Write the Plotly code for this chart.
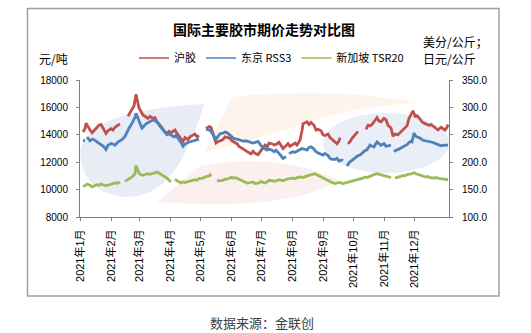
import plotly.graph_objects as go

# ---------------- data ----------------
month_ticks = ["2021-01-01", "2021-02-01", "2021-03-01", "2021-04-01", "2021-05-01", "2021-06-01",
               "2021-07-01", "2021-08-01", "2021-09-01", "2021-10-01", "2021-11-01", "2021-12-01"]
month_labels = ["2021年1月", "2021年2月", "2021年3月", "2021年4月", "2021年5月", "2021年6月",
                "2021年7月", "2021年8月", "2021年9月", "2021年10月", "2021年11月", "2021年12月"]

# 沪胶 (元/吨, left axis)
shfe_dates = [
    "2021-01-04", "2021-01-06", "2021-01-07", "2021-01-08", "2021-01-11", "2021-01-13", "2021-01-15", "2021-01-18", "2021-01-20", "2021-01-22", "2021-01-25", "2021-01-27", "2021-01-29",
    "2021-02-01", "2021-02-03", "2021-02-05", "2021-02-08", "2021-02-10", "2021-02-14", "2021-02-18", "2021-02-22", "2021-02-24", "2021-02-25", "2021-02-26",
    "2021-03-01", "2021-03-03", "2021-03-05", "2021-03-08", "2021-03-10", "2021-03-12", "2021-03-15", "2021-03-17", "2021-03-19", "2021-03-22", "2021-03-24", "2021-03-26", "2021-03-29", "2021-03-31",
    "2021-04-02", "2021-04-06", "2021-04-08", "2021-04-12", "2021-04-14", "2021-04-16", "2021-04-19", "2021-04-21", "2021-04-23", "2021-04-26", "2021-04-28", "2021-04-30",
    "2021-05-03", "2021-05-07", "2021-05-10", "2021-05-12", "2021-05-14", "2021-05-17", "2021-05-19", "2021-05-21", "2021-05-24", "2021-05-26", "2021-05-28", "2021-05-31",
    "2021-06-02", "2021-06-04", "2021-06-07", "2021-06-09", "2021-06-11", "2021-06-15", "2021-06-17", "2021-06-21", "2021-06-23", "2021-06-25", "2021-06-28", "2021-06-30",
    "2021-07-02", "2021-07-05", "2021-07-07", "2021-07-09", "2021-07-12", "2021-07-14", "2021-07-16", "2021-07-19", "2021-07-21", "2021-07-23", "2021-07-26", "2021-07-28", "2021-07-30",
    "2021-08-02", "2021-08-04", "2021-08-06", "2021-08-09", "2021-08-11", "2021-08-12", "2021-08-16", "2021-08-18", "2021-08-20", "2021-08-23", "2021-08-25", "2021-08-27", "2021-08-30",
    "2021-09-01", "2021-09-03", "2021-09-06", "2021-09-08", "2021-09-10", "2021-09-13", "2021-09-15", "2021-09-17", "2021-09-18", "2021-09-22", "2021-09-26", "2021-09-28", "2021-09-30",
    "2021-10-02", "2021-10-04", "2021-10-06", "2021-10-10", "2021-10-14", "2021-10-16", "2021-10-18", "2021-10-20", "2021-10-22", "2021-10-25", "2021-10-27", "2021-10-29",
    "2021-11-01", "2021-11-03", "2021-11-05", "2021-11-08", "2021-11-10", "2021-11-12", "2021-11-15", "2021-11-17", "2021-11-19", "2021-11-22", "2021-11-24", "2021-11-26", "2021-11-29", "2021-11-30",
    "2021-12-02", "2021-12-04", "2021-12-07", "2021-12-09", "2021-12-11", "2021-12-14", "2021-12-16", "2021-12-18", "2021-12-21", "2021-12-23", "2021-12-25", "2021-12-28", "2021-12-30",
    "2022-01-01", "2022-01-03", "2022-01-04",
]
shfe_vals = [
    14200, 14450, 14850, 14700, 14350, 14150, 14300, 14600, 14700, 14750, 14350, 14100, 14300,
    14450, 14350, 14550, 14700, 14800, None, 15350, 15800, 16100, 16500, 16950,
    15950, 15700, 15450, 15300, 15200, 15350, 15200, 15250, 14950, 14700, 14450, 14300, 14100, 14250,
    14150, 14350, 14100, 13750, 13500, 13800, 13650, 13850, 13950, 14050, 13850, 13950,
    None, 14450, 14600, 14550, 14100, 13400, 13500, 13550, 13650, 13850, 13800, 13750,
    13550, 13450, 13350, 13150, 13050, 12900, 12750, 12600, 12800, 12650, 12550, 12800,
    12950, 13250, 13100, 13400, 13350, 13250, 13300, 13450, 13200, 13000, 13200, 13350, 13150,
    13300, 13400, 13250, 13600, 14300, 14800, 14950, 14750, 14900, 14700, 14350, 14400, 14300,
    14000, 13950, 14050, 13800, 13650, 13450, 13350, 13550, 13800, None, 13350, 13500, 13750,
    13900, 14100, 14250, None, 14400, 14700, 14650, 14750, 14950, 15250, 15000, 14950,
    15200, 15100, 14700, 14500, 13900, 14050, 14000, 14150, 14300, 14500, 14650, 15200, 15550, 15750,
    15350, 15400, 15150, 14950, 14850, 14750, 14700, 14750, 14600, 14450, 14350, 14550, 14450,
    14350, 14550, 14750,
]

# 东京 RSS3 (日元/公斤, right axis)
tocom_dates = [
    "2021-01-04", "2021-01-06", "2021-01-07", "2021-01-08", "2021-01-11", "2021-01-13", "2021-01-15", "2021-01-18", "2021-01-20", "2021-01-22", "2021-01-25", "2021-01-27", "2021-01-29",
    "2021-02-01", "2021-02-03", "2021-02-05", "2021-02-08", "2021-02-10", "2021-02-12", "2021-02-15", "2021-02-17", "2021-02-19", "2021-02-22", "2021-02-24", "2021-02-25", "2021-02-26",
    "2021-03-01", "2021-03-03", "2021-03-04", "2021-03-08", "2021-03-10", "2021-03-12", "2021-03-15", "2021-03-17", "2021-03-19", "2021-03-22", "2021-03-24", "2021-03-26", "2021-03-29", "2021-03-31",
    "2021-04-02", "2021-04-05", "2021-04-07", "2021-04-09", "2021-04-12", "2021-04-14", "2021-04-16", "2021-04-19", "2021-04-21", "2021-04-23", "2021-04-26", "2021-04-28", "2021-04-30",
    "2021-05-03", "2021-05-07", "2021-05-10", "2021-05-12", "2021-05-14", "2021-05-17", "2021-05-19", "2021-05-21", "2021-05-24", "2021-05-26", "2021-05-28", "2021-05-31",
    "2021-06-02", "2021-06-04", "2021-06-07", "2021-06-09", "2021-06-11", "2021-06-14", "2021-06-16", "2021-06-18", "2021-06-21", "2021-06-23", "2021-06-25", "2021-06-28", "2021-06-30",
    "2021-07-02", "2021-07-05", "2021-07-07", "2021-07-09", "2021-07-12", "2021-07-14", "2021-07-16", "2021-07-19", "2021-07-21", "2021-07-23", "2021-07-26", "2021-07-27", "2021-07-29",
    "2021-08-02", "2021-08-04", "2021-08-06", "2021-08-09", "2021-08-11", "2021-08-13", "2021-08-16", "2021-08-18", "2021-08-20", "2021-08-23", "2021-08-25", "2021-08-27", "2021-08-30",
    "2021-09-01", "2021-09-03", "2021-09-06", "2021-09-08", "2021-09-10", "2021-09-13", "2021-09-15", "2021-09-17", "2021-09-20", "2021-09-21", "2021-09-23", "2021-09-25", "2021-09-27", "2021-09-29",
    "2021-10-01", "2021-10-04", "2021-10-06", "2021-10-08", "2021-10-11", "2021-10-13", "2021-10-15", "2021-10-18", "2021-10-20", "2021-10-22", "2021-10-25", "2021-10-27", "2021-10-29",
    "2021-11-01", "2021-11-03", "2021-11-05", "2021-11-08", "2021-11-09", "2021-11-11", "2021-11-13", "2021-11-15", "2021-11-17", "2021-11-19", "2021-11-22", "2021-11-24", "2021-11-26", "2021-11-28", "2021-11-29",
    "2021-12-01", "2021-12-03", "2021-12-07", "2021-12-10", "2021-12-13", "2021-12-16", "2021-12-20", "2021-12-24", "2021-12-28",
    "2022-01-01", "2022-01-04",
]
tocom_vals = [
    240, 239, None, 246, 239, 242, 241, 237, 235, 232, 228, 223, 231,
    234, 233, 231, 237, 239, 241, 247, 255, 262, 271, 278, 282, 289,
    274, 264, 262, 270, 272, 274, 277, 276, 273, 266, 261, 257, 250, 252,
    250, 246, 249, 244, 236, 229, 233, 236, 237, 238, 239, 240, 242,
    None, 260, 259, 256, 250, 242, 247, 252, 253, 255, 254, 250,
    246, 243, 242, 241, 240, 238, 239, 238, 237, 235, 236, 238, 233,
    228, 224, 222, 224, 222, 219, 222, 216, 212, 207, 210, None, 216,
    219, 218, 220, 222, 225, 224, 222, 227, 228, 224, 219, 217, 215,
    213, 216, 212, 207, 205, 205, 207, 202, 204, 203, None, 193, 199, 202,
    205, 210, 212, 213, 219, 221, 223, 231, 229, 228, 237, 233, 231,
    234, 229, 230, 231, None, 219, 222, 223, 225, 227, 229, 232, 236, 238, 237,
    253, 247, 244, 240, 239, 237, 236, 233, 230,
    231, 231,
]

# 新加坡 TSR20 (美分/公斤, right axis)
sgx_dates = [
    "2021-01-04", "2021-01-06", "2021-01-08", "2021-01-11", "2021-01-13", "2021-01-15", "2021-01-18", "2021-01-20", "2021-01-22", "2021-01-25", "2021-01-27", "2021-01-29",
    "2021-02-01", "2021-02-03", "2021-02-05", "2021-02-08", "2021-02-10", "2021-02-12", "2021-02-15", "2021-02-17", "2021-02-19", "2021-02-22", "2021-02-24", "2021-02-25", "2021-02-26",
    "2021-03-01", "2021-03-03", "2021-03-05", "2021-03-08", "2021-03-10", "2021-03-12", "2021-03-15", "2021-03-17", "2021-03-19", "2021-03-22", "2021-03-24", "2021-03-26", "2021-03-29", "2021-03-31",
    "2021-04-02", "2021-04-03", "2021-04-06", "2021-04-08", "2021-04-12", "2021-04-14", "2021-04-16", "2021-04-20", "2021-04-22", "2021-04-26", "2021-04-28", "2021-04-30",
    "2021-05-04", "2021-05-06", "2021-05-10", "2021-05-11", "2021-05-12", "2021-05-14", "2021-05-18", "2021-05-20", "2021-05-24", "2021-05-26", "2021-05-28",
    "2021-06-01", "2021-06-03", "2021-06-07", "2021-06-09", "2021-06-11", "2021-06-15", "2021-06-17", "2021-06-21", "2021-06-23", "2021-06-25", "2021-06-29",
    "2021-07-01", "2021-07-05", "2021-07-07", "2021-07-09", "2021-07-13", "2021-07-15", "2021-07-19", "2021-07-21", "2021-07-23", "2021-07-27", "2021-07-29",
    "2021-08-02", "2021-08-04", "2021-08-06", "2021-08-10", "2021-08-12", "2021-08-16", "2021-08-18", "2021-08-20", "2021-08-24", "2021-08-26", "2021-08-30",
    "2021-09-01", "2021-09-03", "2021-09-07", "2021-09-09", "2021-09-13", "2021-09-15", "2021-09-17", "2021-09-21", "2021-09-23", "2021-09-27", "2021-09-29",
    "2021-10-01", "2021-10-05", "2021-10-07", "2021-10-11", "2021-10-13", "2021-10-15", "2021-10-19", "2021-10-21", "2021-10-25", "2021-10-27", "2021-10-29",
    "2021-11-02", "2021-11-04", "2021-11-08", "2021-11-09", "2021-11-12", "2021-11-15", "2021-11-17", "2021-11-19", "2021-11-23", "2021-11-25", "2021-11-29",
    "2021-12-01", "2021-12-03", "2021-12-07", "2021-12-09", "2021-12-13", "2021-12-15", "2021-12-17", "2021-12-21", "2021-12-23", "2021-12-27", "2021-12-29", "2021-12-31",
    "2022-01-04",
]
sgx_vals = [
    156, 157, 160, 158, 155, 157, 159, 158, 160, 158, 157, 158,
    160, 161, 162, 162, 164, None, 165, 167, 170, 173, 177, 179, 194,
    180, 177, 176, 178, 179, 178, 180, 181, 182, 179, 177, 174, 171, 167,
    164, None, 169, 166, 162, 164, 163, 165, 166, 168, 167, 170,
    171, 173, 175, 177, 174, None, 166, 166, 167, 169, 169,
    172, 172, 171, 169, 167, 164, 162, 163, 164, 161, 162,
    165, 162, 164, 167, 166, 165, 168, 167, 166, 169, 170,
    171, 170, 172, 173, 172, 175, 176, 177, 179, 177, 173,
    171, 169, 166, 164, 161, 162, 163, 161, 162, 163, 165,
    166, 168, 169, 171, 173, 172, 175, 177, 179, 178, 176,
    175, 174, 172, None, 171, 173, 174, 175, 176, 178, 179,
    181, 179, 176, 175, 173, 174, 172, 171, 172, 170, 170, 169,
    168,
]

series_names = ["沪胶", "东京 RSS3", "新加坡 TSR20"]
series_colors = ["#C0504D", "#4F81BD", "#9BBB59"]

# ---------------- figure ----------------
W, H = 531, 333
L, R, T, B = 80, 82, 80, 116
PW, PH = W - L - R, H - T - B


def px2paper(px, py):
    return (px - L) / PW, (H - B - py) / PH


def path_from(points, cmds):
    out = []
    i = 0
    for c in cmds:
        if c == "Z":
            out.append("Z")
            continue
        n = 2 if c == "Q" else 1
        seg = []
        for _ in range(n):
            x, y = px2paper(*points[i])
            seg.append(f"{x:.4f},{y:.4f}")
            i += 1
        out.append(c + " " + " ".join(seg))
    return " ".join(out)


fig = go.Figure()
data = [(shfe_dates, shfe_vals, "y"), (tocom_dates, tocom_vals, "y2"), (sgx_dates, sgx_vals, "y2")]
for (xs, ys, ax_), name, col in zip(data, series_names, series_colors):
    fig.add_trace(go.Scatter(x=xs, y=ys, name=name, mode="lines", showlegend=False,
                             line=dict(color=col, width=2.8), connectgaps=False, yaxis=ax_))
# legend entries (thin key lines as in the original)
for name, col in zip(series_names, series_colors):
    fig.add_trace(go.Scatter(x=[None], y=[None], name=name, mode="lines",
                             line=dict(color=col, width=1.3), showlegend=True))

# faint watermark swooshes (decorative background)
shapes = []
wm = [
    ([(80, 152), (86, 110), (204, 104), (186, 165), (160, 186), (140, 200), (118, 196), (82, 190), (80, 152)],
     ["M", "Q", "Q", "Q", "Q", "Z"], "#E8EDF5"),
    ([(205, 152), (232, 97), (330, 86), (420, 103), (350, 106), (300, 125), (250, 142), (205, 152)],
     ["M", "L", "Q", "Q", "Q", "Z"], "#FDF5EB"),
    ([(157, 202), (200, 166), (280, 152), (338, 180), (300, 206), (200, 204), (157, 202)],
     ["M", "L", "Q", "Q", "Z"], "#FCEFEF"),
]
for pts, cmds, col in wm:
    shapes.append(dict(type="path", xref="paper", yref="paper", path=path_from(pts, cmds),
                       fillcolor=col, line=dict(width=0), layer="below"))
ex0, ey0 = px2paper(323, 173)
ex1, ey1 = px2paper(449, 113)
shapes.append(dict(type="circle", xref="paper", yref="paper", x0=ex0, y0=ey0, x1=ex1, y1=ey1,
                   fillcolor="#EAEEF6", line=dict(width=0), layer="below"))
# outer frame
fx0, fy0 = px2paper(27.5, 296)
fx1, fy1 = px2paper(499, 8.5)
shapes.append(dict(type="rect", xref="paper", yref="paper", x0=fx0, y0=fy0, x1=fx1, y1=fy1,
                   line=dict(color="#A0A0A0", width=1.5), fillcolor="rgba(0,0,0,0)", layer="below"))

annotations = []
tx, ty = px2paper(264, 29)
annotations.append(dict(text="<b>国际主要胶市期价走势对比图</b>", x=tx, y=ty, xref="paper", yref="paper",
                        showarrow=False, xanchor="center", yanchor="middle",
                        font=dict(size=14, color="#000000", family="Noto Sans CJK SC")))
ax, ay = px2paper(37, 58)
annotations.append(dict(text="元/吨", x=ax, y=ay, xref="paper", yref="paper", showarrow=False,
                        xanchor="left", yanchor="middle", font=dict(size=12, color="#000000", family="Noto Sans CJK SC")))
bx, by = px2paper(421, 42)
annotations.append(dict(text="美分/公斤；", x=bx, y=by, xref="paper", yref="paper", showarrow=False,
                        xanchor="left", yanchor="middle", font=dict(size=12, color="#000000", family="Noto Sans CJK SC")))
cx, cy = px2paper(421, 58)
annotations.append(dict(text="日元/公斤", x=cx, y=cy, xref="paper", yref="paper", showarrow=False,
                        xanchor="left", yanchor="middle", font=dict(size=12, color="#000000", family="Noto Sans CJK SC")))
sx, sy = px2paper(262, 322)
annotations.append(dict(text="数据来源：金联创", x=sx, y=sy, xref="paper", yref="paper", showarrow=False,
                        xanchor="center", yanchor="middle", font=dict(size=13, color="#404040", family="Noto Sans CJK SC")))

lgx, lgy = px2paper(134, 58)

fig.update_layout(
    width=W, height=H,
    margin=dict(l=L, r=R, t=T, b=B, pad=0),
    paper_bgcolor="white", plot_bgcolor="rgba(0,0,0,0)",
    showlegend=True,
    legend=dict(orientation="h", x=lgx, y=lgy, xanchor="left", yanchor="middle",
                font=dict(size=11, color="#000000", family="Noto Sans CJK SC"),
                bgcolor="rgba(0,0,0,0)", itemwidth=30, tracegroupgap=0),
    xaxis=dict(type="date", range=["2021-01-01", "2022-01-05"],
               tickmode="array", tickvals=month_ticks, ticktext=month_labels, tickangle=-90,
               ticks="outside", ticklen=3, tickcolor="#808080", showgrid=False, zeroline=False,
               showline=True, linecolor="#808080", linewidth=1,
               tickfont=dict(size=11, color="#000000", family="Liberation Sans, Noto Sans CJK SC"),
               ticklabelstandoff=4),
    yaxis=dict(range=[8000, 18000], dtick=2000, tick0=8000, ticks="outside", ticklen=3,
               tickcolor="#808080", showgrid=False, zeroline=False, showline=True,
               linecolor="#808080", linewidth=1, tickformat="d",
               tickfont=dict(size=10, color="#000000", family="Liberation Sans"),
               ticklabelstandoff=6),
    yaxis2=dict(range=[100, 350], dtick=50, tick0=100, overlaying="y", side="right",
                ticks="outside", ticklen=3, tickcolor="#808080", showgrid=False, zeroline=False,
                showline=True, linecolor="#808080", linewidth=1, tickformat=".1f",
                tickfont=dict(size=10, color="#000000", family="Liberation Sans"),
                ticklabelstandoff=7),
    shapes=shapes,
    annotations=annotations,
)

fig.write_html("out.html")
